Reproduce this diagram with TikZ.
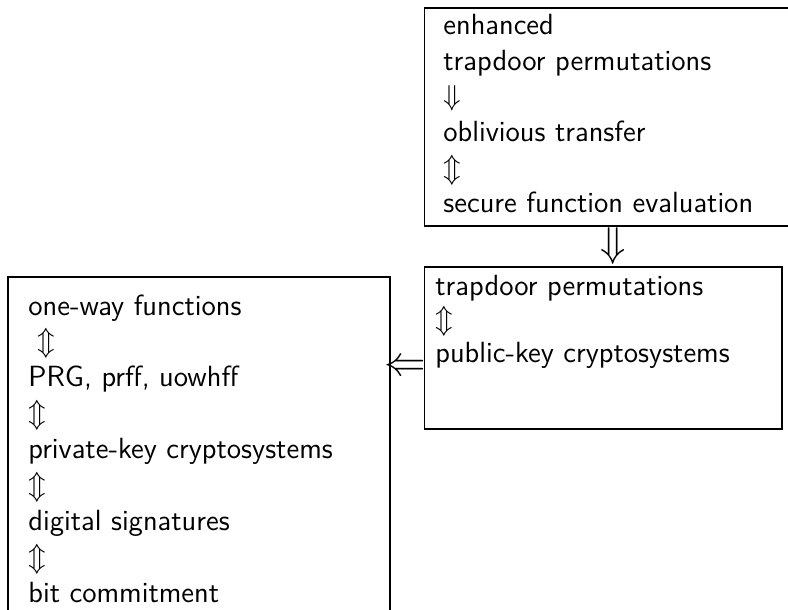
\documentclass[tikz,border=0pt]{standalone}
\usepackage{fontspec}
\begin{document}
\begin{tikzpicture}[x=0.5pt,y=-0.5pt,
  box/.style={draw=black,line width=0.6pt},
  txt/.style={anchor=base west,inner sep=0pt,font=\sffamily\fontsize{14.6}{17.8}\selectfont},
  glyph/.style={inner sep=0pt,font=\sffamily\fontsize{20}{24}\selectfont}]
\useasboundingbox (0,0) rectangle (788,610);
\clip (0,0) rectangle (788,610);
% boxes
\draw[box] (424.7,8) rectangle (800,226);
\draw[box] (424.7,267) rectangle (782,429);
\draw[box] (8,277) rectangle (390,640);
% top box text
\foreach \t [count=\i] in {enhanced,trapdoor permutations,$\Downarrow$,oblivious transfer,$\Updownarrow$,secure function evaluation}
  \node[txt] (top\i) at (443,{35+35.5*(\i-1)}) {\t};
% middle box text
\foreach \t [count=\i] in {trapdoor permutations,$\Updownarrow$,public-key cryptosystems}
  \node[txt] (mid\i) at (435,{295+33.5*(\i-1)}) {\t};
% left box text
\foreach \t [count=\i] in {one-way functions,\ $\Updownarrow$,{PRG, prff, uowhff},$\Updownarrow$,private-key cryptosystems,$\Updownarrow$,digital signatures,$\Updownarrow$,bit commitment}
  \node[txt] (left\i) at (28,{315+35.9*(\i-1)}) {\t};
% arrows between boxes
\node[glyph] (down) at (613,246) {$\Downarrow$};
\node[glyph] (leftarr) at (405,368) {$\Leftarrow$};
\end{tikzpicture}
\end{document}
